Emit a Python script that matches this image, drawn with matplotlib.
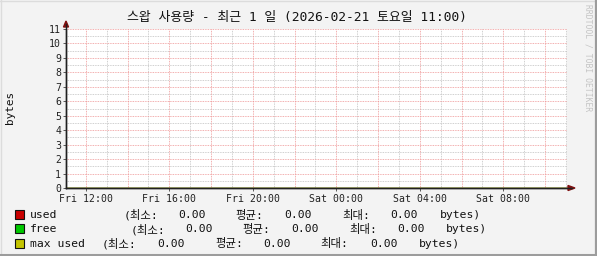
import matplotlib
matplotlib.use("Agg")
import matplotlib.pyplot as plt
from matplotlib.patches import Rectangle, Polygon
from matplotlib.lines import Line2D
import numpy as np

# ── Data ─────────────────────────────────────
TITLE = "스왑 사용량 - 최근 1 일 (2026-02-21 토요일 11:00)"
hours = list(range(11, 36))            # hours since Fri 00:00
used = [0.0] * len(hours)
free = [0.0] * len(hours)
max_used = [0.0] * len(hours)
series_names = ["used", "free", "max used"]
series_colors = ["#C80000", "#00C800", "#C4C400"]
tick_hours = [12, 16, 20, 24, 28, 32]
tick_labels = ["Fri 12:00", "Fri 16:00", "Fri 20:00", "Sat 00:00", "Sat 04:00", "Sat 08:00"]

W, H = 597, 256
KFONT = ["DejaVu Sans Mono", "Noto Sans CJK KR"]


def fx(x):
    return x / W


def fy(y):
    return 1 - y / H


fig = plt.figure(figsize=(W / 100, H / 100), dpi=100, facecolor="#F3F3F3")

# frame border (3D look)
fig.add_artist(Line2D([0, 1], [fy(0.5), fy(0.5)], color="#DCDCDC", lw=1))
fig.add_artist(Line2D([fx(0.5), fx(0.5)], [0, 1], color="#DCDCDC", lw=1))
fig.add_artist(Line2D([0, 1], [fy(255), fy(255)], color="#9C9C9C", lw=2.2))
fig.add_artist(Line2D([fx(596), fx(596)], [0, 1], color="#9C9C9C", lw=1.6))

ax = fig.add_axes([fx(66), fy(188), fx(567 - 66), (188 - 29) / H])
ax.set_facecolor("white")
ax.set_xlim(11.05, 35.05)
ax.set_ylim(0, 11)

dot = (0, (1, 1))
# minor grid
for h in hours:
    if h % 2:
        ax.axvline(h, color="#C0C0C0", lw=0.6, ls=dot, zorder=1)
for v in np.arange(0.5, 11, 1.0):
    ax.axhline(v, color="#C0C0C0", lw=0.6, ls=dot, zorder=1)
# major grid
for h in hours:
    if h % 2 == 0:
        ax.axvline(h, color="#EE9494", lw=0.6, ls=dot, zorder=2)
for v in range(1, 12):
    ax.axhline(v, color="#EE9494", lw=0.6, ls=dot, zorder=2)

for vals, c in zip([used, free, max_used], series_colors):
    ax.plot(hours, vals, color=c, lw=1, zorder=3)

for s in ["top", "right"]:
    ax.spines[s].set_visible(False)
for s in ["left", "bottom"]:
    ax.spines[s].set_color("#202020")
    ax.spines[s].set_linewidth(1)
    ax.spines[s].set_zorder(5)

ax.set_xticks(tick_hours)
ax.set_xticklabels(tick_labels, fontfamily="DejaVu Sans Mono", fontsize=7.1)
ax.set_yticks(range(0, 12))
ax.set_yticklabels([str(i) for i in range(0, 12)], fontfamily="DejaVu Sans Mono", fontsize=7.1)
ax.tick_params(axis="both", length=2, width=0.6, color="#404040", pad=1.5, labelcolor="#222222")
ax.tick_params(axis="x", pad=2)

# axis extensions and arrows
fig.add_artist(Line2D([fx(66), fx(66)], [fy(188), fy(24)], color="#202020", lw=1))
fig.add_artist(Line2D([fx(66), fx(572)], [fy(188), fy(188)], color="#202020", lw=1))
fig.add_artist(Polygon([(fx(63.5), fy(27)), (fx(68.5), fy(27)), (fx(66), fy(21))],
                       closed=True, color="#7F1010"))
fig.add_artist(Polygon([(fx(568), fy(185.5)), (fx(568), fy(190.5)), (fx(575), fy(188))],
                       closed=True, color="#7F1010"))

# title and labels
fig.text(fx(297), fy(18), TITLE, family=KFONT, fontsize=9.3, ha="center", va="center",
         color="#111111")
fig.text(fx(10.5), fy(107), "bytes", family="DejaVu Sans Mono", fontsize=7.9,
         rotation=90, ha="center", va="center", color="#111111")
fig.text(fx(588), fy(4), "RRDTOOL / TOBI OETIKER", family="DejaVu Sans Mono", fontsize=5.8,
         rotation=270, ha="center", va="top", color="#C4C4C4")

# legend
row_y = [214, 228.5, 243]
col_x = [[124, 178, 235, 284, 342, 390, 440],
         [131, 185, 242, 291, 349, 397, 446],
         [102, 157, 215, 263, 320, 370, 419]]
for i, (name, vals, c) in enumerate(zip(series_names, [used, free, max_used], series_colors)):
    y = row_y[i]
    fig.add_artist(Rectangle((fx(15), fy(y + 4.5)), 9 / W, 9 / H, facecolor=c,
                             edgecolor="#111111", lw=0.8))
    fig.text(fx(30), fy(y), name, family=KFONT, fontsize=8.2, va="center_baseline",
             color="#111111")
    parts = ["(최소:", f"{min(vals):.2f}", "평균:", f"{np.mean(vals):.2f}",
             "최대:", f"{max(vals):.2f}", "bytes)"]
    for x, t in zip(col_x[i], parts):
        fig.text(fx(x), fy(y), t, family=KFONT, fontsize=8.2, va="center_baseline",
                 color="#111111")

fig.savefig("out.png", dpi=100, facecolor=fig.get_facecolor())
